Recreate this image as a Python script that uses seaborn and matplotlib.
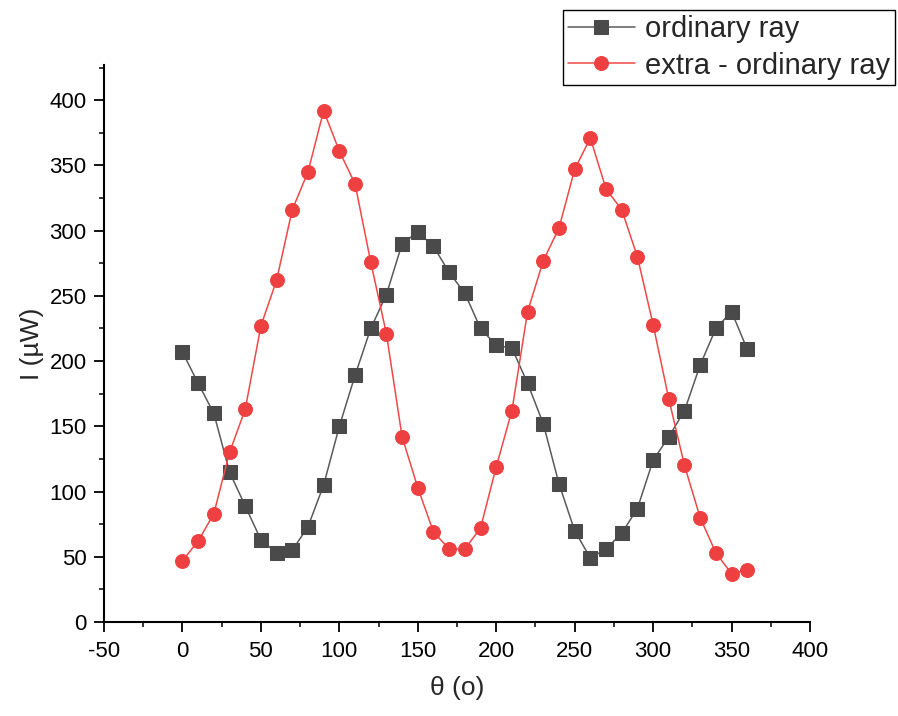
import numpy as np
import pandas as pd
import matplotlib
matplotlib.use("Agg")
import matplotlib.pyplot as plt
from matplotlib.ticker import MultipleLocator
import seaborn as sns

# Rotation angle (degrees)
theta = list(range(0, 361, 10))

# Measured intensities (µW)
ordinary = [207, 183, 160, 115, 89, 63, 53, 55, 73, 105,
            150, 189, 225, 251, 290, 299, 288, 268, 252, 225,
            212, 210, 183, 152, 106, 70, 49, 56, 68, 87,
            124, 142, 162, 197, 225, 238, 209]
extra_ordinary = [47, 62, 83, 130, 163, 227, 262, 316, 345, 392,
                  361, 336, 276, 221, 142, 103, 69, 56, 56, 72,
                  119, 162, 238, 277, 302, 347, 371, 332, 316, 280,
                  228, 171, 120, 80, 53, 37, 40]

series_names = ["ordinary ray", "extra - ordinary ray"]

sns.set_style("ticks")
plt.rcParams["font.family"] = ["Liberation Sans", "DejaVu Sans"]
plt.rcParams["axes.unicode_minus"] = False

df = pd.DataFrame({"theta": theta, "ordinary": ordinary, "extra": extra_ordinary})

fig = plt.figure(figsize=(8.98, 7.16), dpi=100)
ax = fig.add_axes([104 / 898, 1 - 622 / 716, (810 - 104) / 898, (622 - 65) / 716])

sns.lineplot(data=df, x="theta", y="ordinary", ax=ax, color="#5a5a5a", lw=1.1,
             marker="s", markersize=9.5, markerfacecolor="#4a4a4a",
             markeredgecolor="#4a4a4a", label=series_names[0])
sns.lineplot(data=df, x="theta", y="extra", ax=ax, color="#f04848", lw=1.1,
             marker="o", markersize=10, markerfacecolor="#ee4040",
             markeredgecolor="#ee4040", label=series_names[1])

ax.set_xlim(-50, 400)
ax.set_ylim(0, 427)
ax.xaxis.set_major_locator(MultipleLocator(50))
ax.xaxis.set_minor_locator(MultipleLocator(25))
ax.yaxis.set_major_locator(MultipleLocator(50))
ax.yaxis.set_minor_locator(MultipleLocator(25))

for side in ("top", "right"):
    ax.spines[side].set_visible(False)
for side in ("left", "bottom"):
    ax.spines[side].set_linewidth(1.5)
    ax.spines[side].set_color("black")

ax.tick_params(which="major", length=7.5, width=1.3, labelsize=16, direction="out",
               colors="black")
ax.tick_params(which="minor", length=3.5, width=1.1, direction="out", colors="black")
ax.tick_params(axis="x", pad=6)
ax.tick_params(axis="y", pad=5)

ax.set_xlabel("θ (o)", fontsize=19, labelpad=10)
ax.set_ylabel("I (µW)", fontsize=19, labelpad=4)

# Legend sits above the plot area, in the top-right corner of the figure
handles, labels = ax.get_legend_handles_labels()
ax.get_legend().remove()
leg = fig.legend(handles, labels, loc="upper right",
                 bbox_to_anchor=(895 / 898, 1 - 10 / 716),
                 fontsize=21, frameon=True, fancybox=False, framealpha=1,
                 edgecolor="black", borderpad=0.17, handlelength=2.3,
                 handletextpad=0.35, labelspacing=0.3, borderaxespad=0)
leg.get_frame().set_linewidth(1.0)

fig.savefig("out.png", dpi=100)
